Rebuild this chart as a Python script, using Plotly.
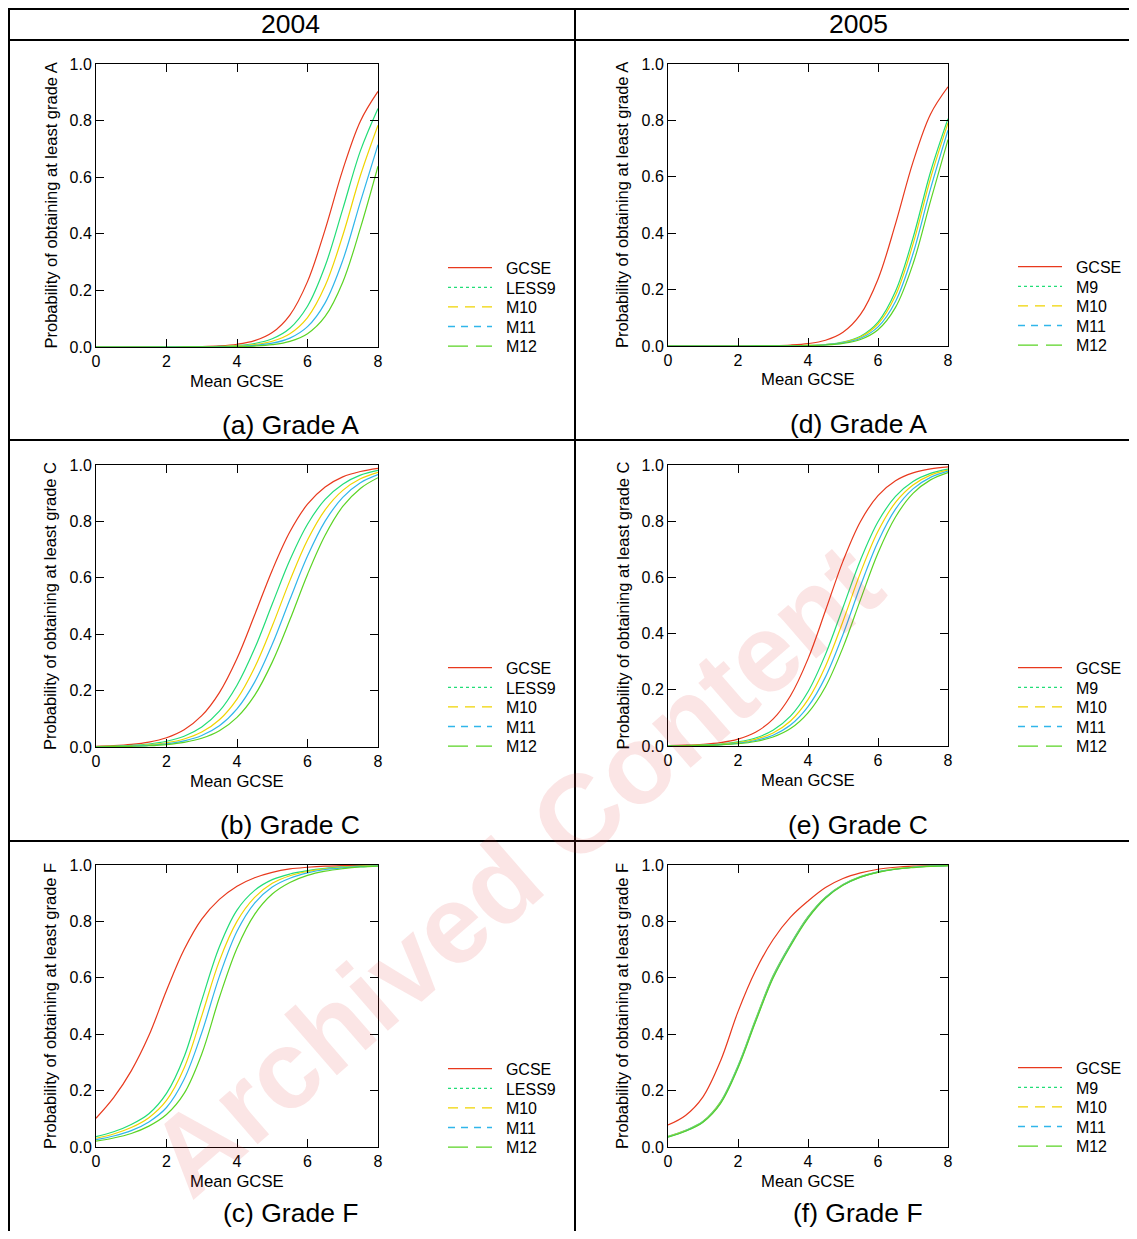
import plotly.graph_objects as go

# The page adds an 8px body margin, so the figure is 16px smaller than the window
OFF = 8
W, H = 1137 - 2 * OFF, 1239 - 2 * OFF
FONT = "Arial, Liberation Sans, sans-serif"

# ---------------- data ----------------
XS = [0, 0.5, 1, 1.5, 2, 2.5, 3, 3.5, 4, 4.5, 5, 5.5, 6, 6.5, 7, 7.5, 8]

YEARS = ["2004", "2005"]
SERIES_2004 = ["GCSE", "LESS9", "M10", "M11", "M12"]
SERIES_2005 = ["GCSE", "M9", "M10", "M11", "M12"]
X_TICKS = [0, 2, 4, 6, 8]
Y_TICKS = [0.0, 0.2, 0.4, 0.6, 0.8, 1.0]

# (a) Grade A, 2004
GCSE_A04 = [0.0000, 0.0000, 0.0001, 0.0001, 0.0003, 0.0007, 0.0017, 0.0041, 0.0096, 0.0223, 0.0511, 0.113, 0.231, 0.415, 0.626, 0.798, 0.903]
LESS9_A04 = [0.0000, 0.0000, 0.0000, 0.0001, 0.0002, 0.0004, 0.0009, 0.0022, 0.0053, 0.0124, 0.0290, 0.0662, 0.144, 0.286, 0.487, 0.693, 0.843]
M10_A04 = [0.0000, 0.0000, 0.0000, 0.0000, 0.0001, 0.0003, 0.0007, 0.0016, 0.0037, 0.0088, 0.0204, 0.047, 0.104, 0.216, 0.394, 0.606, 0.784]
M11_A04 = [0.0000, 0.0000, 0.0000, 0.0000, 0.0001, 0.0002, 0.0004, 0.0010, 0.0024, 0.0057, 0.0134, 0.0314, 0.0719, 0.156, 0.306, 0.513, 0.715]
M12_A04 = [0.0000, 0.0000, 0.0000, 0.0000, 0.0000, 0.0001, 0.0002, 0.0006, 0.0014, 0.0034, 0.0082, 0.0198, 0.0471, 0.108, 0.229, 0.420, 0.639]

# (b) Grade C, 2004
GCSE_C04 = [0.0025, 0.0048, 0.0092, 0.0175, 0.0329, 0.0612, 0.111, 0.193, 0.314, 0.468, 0.627, 0.763, 0.861, 0.922, 0.958, 0.977, 0.988]
LESS9_C04 = [0.0015, 0.0030, 0.0056, 0.0107, 0.0204, 0.0383, 0.0709, 0.127, 0.219, 0.349, 0.507, 0.663, 0.790, 0.878, 0.932, 0.964, 0.981]
M10_C04 = [0.0011, 0.0022, 0.0041, 0.0079, 0.0150, 0.0283, 0.0529, 0.0966, 0.170, 0.282, 0.429, 0.590, 0.734, 0.841, 0.910, 0.951, 0.974]
M11_C04 = [0.0009, 0.0016, 0.0032, 0.0060, 0.0114, 0.0217, 0.0408, 0.0752, 0.135, 0.230, 0.364, 0.523, 0.677, 0.801, 0.885, 0.937, 0.966]
M12_C04 = [0.0006, 0.0012, 0.0024, 0.0045, 0.0086, 0.0164, 0.0309, 0.0576, 0.105, 0.183, 0.301, 0.451, 0.612, 0.751, 0.853, 0.917, 0.955]

# (c) Grade F, 2004
GCSE_F04 = [0.102, 0.175, 0.270, 0.395, 0.555, 0.700, 0.808, 0.878, 0.925, 0.955, 0.974, 0.986, 0.992, 0.996, 0.998, 0.999, 1.000]
LESS9_F04 = [0.037, 0.054, 0.080, 0.118, 0.190, 0.320, 0.520, 0.710, 0.840, 0.910, 0.948, 0.968, 0.980, 0.988, 0.993, 0.996, 0.998]
M10_F04 = [0.031, 0.046, 0.069, 0.104, 0.165, 0.280, 0.465, 0.660, 0.800, 0.885, 0.935, 0.962, 0.977, 0.986, 0.992, 0.995, 0.998]
M11_F04 = [0.026, 0.039, 0.058, 0.089, 0.140, 0.240, 0.405, 0.605, 0.765, 0.865, 0.922, 0.953, 0.972, 0.984, 0.990, 0.994, 0.997]
M12_F04 = [0.021, 0.032, 0.048, 0.074, 0.115, 0.190, 0.330, 0.530, 0.705, 0.825, 0.897, 0.938, 0.963, 0.978, 0.987, 0.993, 0.996]

# (d) Grade A, 2005
GCSE_A05 = [0.0000, 0.0000, 0.0000, 0.0001, 0.0002, 0.0006, 0.0014, 0.0034, 0.0084, 0.0204, 0.0488, 0.112, 0.237, 0.433, 0.652, 0.822, 0.919]
M9_A05 = [0.0000, 0.0000, 0.0000, 0.0000, 0.0000, 0.0001, 0.0003, 0.0008, 0.0021, 0.0054, 0.0137, 0.0348, 0.085, 0.194, 0.383, 0.617, 0.806]
M10_A05 = [0.0000, 0.0000, 0.0000, 0.0000, 0.0000, 0.0001, 0.0003, 0.0007, 0.0019, 0.0049, 0.0125, 0.0317, 0.078, 0.179, 0.361, 0.594, 0.791]
M11_A05 = [0.0000, 0.0000, 0.0000, 0.0000, 0.0000, 0.0001, 0.0002, 0.0006, 0.0016, 0.0042, 0.0108, 0.0273, 0.0677, 0.158, 0.327, 0.557, 0.765]
M12_A05 = [0.0000, 0.0000, 0.0000, 0.0000, 0.0000, 0.0001, 0.0002, 0.0005, 0.0014, 0.0035, 0.0091, 0.0231, 0.0577, 0.137, 0.291, 0.514, 0.732]

# (e) Grade C, 2005
GCSE_C05 = [0.0014, 0.0028, 0.0058, 0.0119, 0.0242, 0.0487, 0.0955, 0.179, 0.310, 0.482, 0.658, 0.799, 0.891, 0.944, 0.972, 0.986, 0.993]
M9_C05 = [0.0009, 0.0018, 0.0036, 0.0072, 0.0144, 0.0285, 0.0559, 0.106, 0.193, 0.326, 0.493, 0.662, 0.798, 0.888, 0.941, 0.970, 0.985]
M10_C05 = [0.0007, 0.0015, 0.0029, 0.0059, 0.0118, 0.0236, 0.0464, 0.0891, 0.165, 0.284, 0.444, 0.617, 0.764, 0.867, 0.929, 0.964, 0.982]
M11_C05 = [0.0006, 0.0012, 0.0024, 0.0049, 0.0098, 0.0195, 0.0384, 0.0745, 0.140, 0.246, 0.397, 0.570, 0.727, 0.843, 0.915, 0.956, 0.978]
M12_C05 = [0.0005, 0.0010, 0.0020, 0.0040, 0.0080, 0.0161, 0.0318, 0.0620, 0.118, 0.211, 0.351, 0.521, 0.687, 0.815, 0.899, 0.947, 0.973]

# (f) Grade F, 2005
GCSE_F05 = [0.078, 0.112, 0.178, 0.305, 0.480, 0.625, 0.735, 0.815, 0.872, 0.920, 0.952, 0.972, 0.985, 0.992, 0.996, 0.998, 0.999]
M9_F05 = [0.038, 0.059, 0.091, 0.160, 0.288, 0.452, 0.607, 0.720, 0.817, 0.886, 0.931, 0.959, 0.976, 0.986, 0.992, 0.996, 0.998]
M10_F05 = [0.037, 0.058, 0.090, 0.158, 0.285, 0.449, 0.604, 0.718, 0.815, 0.885, 0.930, 0.958, 0.975, 0.986, 0.992, 0.996, 0.998]
M11_F05 = [0.036, 0.057, 0.089, 0.156, 0.283, 0.446, 0.601, 0.716, 0.813, 0.884, 0.929, 0.957, 0.975, 0.985, 0.992, 0.996, 0.998]
M12_F05 = [0.035, 0.056, 0.088, 0.154, 0.280, 0.443, 0.598, 0.713, 0.811, 0.882, 0.928, 0.957, 0.974, 0.985, 0.991, 0.995, 0.998]

# ---------------- styling ----------------
COLORS = ["#E8391D", "#22DD77", "#F0D400", "#30B6EA", "#5AD424"]
DASHES = ["solid", "dot", "10px,7px", "7px,6px", "20px,8px"]
LEG_STEP = 19.6

# panel boxes in window pixels: left, right, top, bottom
PANELS = [
    dict(label="(a) Grade A", grade="A", names=SERIES_2004,
         ys=[GCSE_A04, LESS9_A04, M10_A04, M11_A04, M12_A04], box=(96, 378, 64, 347), cap_y=425, leg_y=307),
    dict(label="(b) Grade C", grade="C", names=SERIES_2004,
         ys=[GCSE_C04, LESS9_C04, M10_C04, M11_C04, M12_C04], box=(96, 378, 465, 747), cap_y=825, leg_y=707),
    dict(label="(c) Grade F", grade="F", names=SERIES_2004,
         ys=[GCSE_F04, LESS9_F04, M10_F04, M11_F04, M12_F04], box=(96, 378, 865, 1147), cap_y=1213, leg_y=1108),
    dict(label="(d) Grade A", grade="A", names=SERIES_2005,
         ys=[GCSE_A05, M9_A05, M10_A05, M11_A05, M12_A05], box=(668, 948, 64, 346), cap_y=424, leg_y=306),
    dict(label="(e) Grade C", grade="C", names=SERIES_2005,
         ys=[GCSE_C05, M9_C05, M10_C05, M11_C05, M12_C05], box=(668, 948, 465, 746), cap_y=825, leg_y=707),
    dict(label="(f) Grade F", grade="F", names=SERIES_2005,
         ys=[GCSE_F05, M9_F05, M10_F05, M11_F05, M12_F05], box=(668, 948, 865, 1147), cap_y=1213, leg_y=1107),
]

fig = go.Figure()
layout = dict(
    width=W, height=H, margin=dict(l=0, r=0, t=0, b=0, pad=0, autoexpand=False),
    paper_bgcolor="white", plot_bgcolor="white",
    font=dict(family=FONT, color="black"),
    annotations=[], shapes=[],
)


def px_x(v):
    return (v - OFF) / W


def px_y(v):
    return 1 - (v - OFF) / H


leg_count = 0
for i, p in enumerate(PANELS):
    n = i + 1
    suf = "" if n == 1 else str(n)
    xa, ya = "x" + suf, "y" + suf
    l, r, t, b = p["box"]
    common = dict(
        ticks="inside", ticklen=8, tickcolor="black", tickwidth=1,
        showline=True, linecolor="black", linewidth=1, mirror="ticks",
        showgrid=False, zeroline=False, automargin=False,
        tickfont=dict(size=16, family=FONT, color="black"), fixedrange=True,
    )
    layout["xaxis" + suf] = dict(domain=[px_x(l), px_x(r)], range=[0, 8], tickvals=X_TICKS,
                                 anchor=ya, **common)
    layout["yaxis" + suf] = dict(domain=[px_y(b), px_y(t)], range=[0, 1], tickvals=Y_TICKS,
                                 tickformat=".1f", anchor=xa, **common)
    for k, (name, ys) in enumerate(zip(p["names"], p["ys"])):
        fig.add_trace(go.Scatter(
            x=XS, y=ys, mode="lines", name=name, showlegend=False,
            line=dict(color=COLORS[k], width=1.2, shape="spline", smoothing=1.0),
            xaxis=xa, yaxis=ya, hoverinfo="skip",
        ))
    # one small legend per entry so that the rows sit as close as in the reference
    lx = 443 if l < 500 else 1013
    for k, name in enumerate(p["names"]):
        leg_count += 1
        lid = "legend" if leg_count == 1 else "legend%d" % leg_count
        layout[lid] = dict(
            x=px_x(lx), y=px_y(p["leg_y"] + (k - 2) * LEG_STEP), xanchor="left", yanchor="middle",
            xref="paper", yref="paper",
            font=dict(size=16, family=FONT, color="black"), bgcolor="rgba(0,0,0,0)",
            itemwidth=44, tracegroupgap=0, borderwidth=0,
        )
        fig.add_trace(go.Scatter(
            x=[None], y=[None], mode="lines", name="\u00a0\u00a0" + name, showlegend=True, legend=lid,
            line=dict(color=COLORS[k], width=1.3, dash=DASHES[k]),
            xaxis=xa, yaxis=ya,
        ))
    cx = (l + r) / 2
    cy = (t + b) / 2
    layout["annotations"].append(dict(
        text="Mean GCSE", x=px_x(cx), y=px_y(b + 34), xref="paper", yref="paper",
        showarrow=False, xanchor="center", yanchor="middle",
        font=dict(size=16.7, family=FONT, color="black")))
    layout["annotations"].append(dict(
        text="Probability of obtaining at least grade " + p["grade"],
        x=px_x(l - 46), y=px_y(cy), xref="paper", yref="paper", textangle=-90,
        showarrow=False, xanchor="center", yanchor="middle",
        font=dict(size=16.5, family=FONT, color="black")))
    col_c = 290 if l < 500 else 858
    layout["annotations"].append(dict(
        text=p["label"], x=px_x(col_c), y=px_y(p["cap_y"]), xref="paper", yref="paper",
        showarrow=False, xanchor="center", yanchor="middle",
        font=dict(size=26.5, family=FONT, color="black")))

for year, cxp in zip(YEARS, [290, 858]):
    layout["annotations"].append(dict(
        text=year, x=px_x(cxp), y=px_y(24), xref="paper", yref="paper",
        showarrow=False, xanchor="center", yanchor="middle",
        font=dict(size=26.5, family=FONT, color="black")))

# table rules
for yy in [9, 40, 440, 841]:
    layout["shapes"].append(dict(type="line", xref="paper", yref="paper",
                                 x0=px_x(8), x1=1, y0=px_y(yy), y1=px_y(yy),
                                 line=dict(color="black", width=2)))
for xx in [9, 575]:
    layout["shapes"].append(dict(type="line", xref="paper", yref="paper",
                                 x0=px_x(xx), x1=px_x(xx), y0=px_y(8), y1=0,
                                 line=dict(color="black", width=2)))

# watermark
layout["annotations"].append(dict(
    text="<b>Archived Content</b>", x=px_x(515), y=px_y(870), xref="paper", yref="paper",
    showarrow=False, xanchor="center", yanchor="middle", textangle=-41,
    font=dict(size=111, family=FONT, color="rgba(220,40,40,0.12)")))

fig.update_layout(**layout)
fig.write_html("out.html")
